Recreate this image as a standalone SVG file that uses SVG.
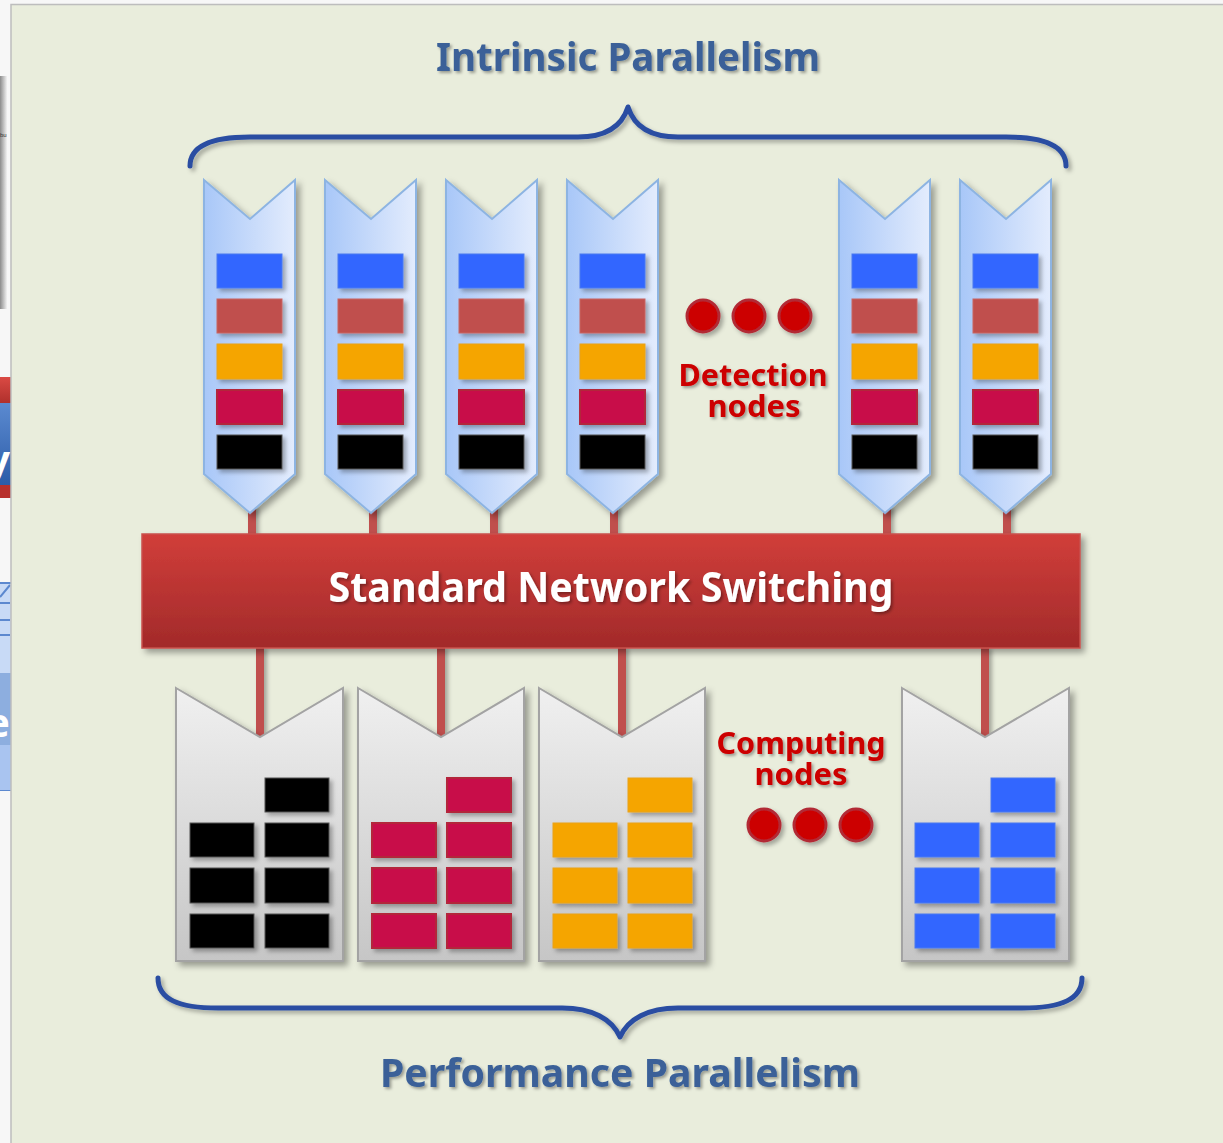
<svg xmlns="http://www.w3.org/2000/svg" width="1223" height="1143" viewBox="0 0 1223 1143">
  <style>
    .title { font-family: "Noto Sans", "Open Sans", "Liberation Sans", sans-serif; font-weight: bold; font-size: 40px; fill: #3A6198; text-anchor: middle; }
    .label { font-family: "Noto Sans", "Open Sans", "Liberation Sans", sans-serif; font-weight: bold; font-size: 31px; fill: #CC0000; text-anchor: middle; }
    .bar-text { font-family: "Noto Sans", "Open Sans", "Liberation Sans", sans-serif; font-weight: bold; font-size: 41px; fill: #FFFFFF; text-anchor: middle; }
    .det { fill: url(#detFill); stroke: #8DB4E2; stroke-width: 2; }
    .cmp { fill: url(#cmpFill); stroke: #A3A3A3; stroke-width: 2; }
    .blue { fill: #3366FF; stroke: #4A78F0; stroke-width: 1; }
    .rose { fill: #C0504D; stroke: #C86562; stroke-width: 1; }
    .amber { fill: #F5A503; stroke: #E9A21A; stroke-width: 1; }
    .crimson { fill: #C8084A; stroke: #B3283A; stroke-width: 2; }
    .ink { fill: #050505; stroke: #555555; stroke-width: 1; }
    .dot { fill: #CC0000; stroke: #B22A35; stroke-width: 3; }
    .brace { fill: none; stroke: #2A4DA2; stroke-width: 5; stroke-linecap: round; stroke-linejoin: round; }
    .link { stroke: #C0504D; stroke-width: 8; }
  </style>
  <defs>
    <linearGradient id="detFill" x1="0" y1="0" x2="1" y2="0">
      <stop offset="0" stop-color="#A8C7F8"/>
      <stop offset="1" stop-color="#E3ECFD"/>
    </linearGradient>
    <linearGradient id="cmpFill" x1="0" y1="0" x2="0" y2="1">
      <stop offset="0" stop-color="#F0F0F0"/>
      <stop offset="1" stop-color="#C6C6C6"/>
    </linearGradient>
    <linearGradient id="barFill" x1="0" y1="0" x2="0" y2="1">
      <stop offset="0" stop-color="#D13E3A"/>
      <stop offset="1" stop-color="#A22A2A"/>
    </linearGradient>
    <linearGradient id="sideRed" x1="0" y1="0" x2="0" y2="1">
      <stop offset="0" stop-color="#DA4A44"/>
      <stop offset="1" stop-color="#B0302C"/>
    </linearGradient>
    <linearGradient id="sideBlue" x1="0" y1="0" x2="0" y2="1">
      <stop offset="0" stop-color="#5B8AD0"/>
      <stop offset="1" stop-color="#2C5CA8"/>
    </linearGradient>
    <linearGradient id="sideGrey" x1="0" y1="0" x2="1" y2="0">
      <stop offset="0" stop-color="#8C8C8C"/>
      <stop offset="1" stop-color="#F2F2F2"/>
    </linearGradient>
    <filter id="shadow" x="-20%" y="-20%" width="150%" height="150%">
      <feDropShadow dx="4" dy="4" stdDeviation="3" flood-color="#000" flood-opacity="0.35"/>
    </filter>
    <filter id="smallShadow" x="-20%" y="-20%" width="150%" height="160%">
      <feDropShadow dx="3" dy="3" stdDeviation="2" flood-color="#000" flood-opacity="0.3"/>
    </filter>
    <filter id="textShadow" x="-10%" y="-30%" width="120%" height="170%">
      <feDropShadow dx="2" dy="2" stdDeviation="1.5" flood-color="#000" flood-opacity="0.35"/>
    </filter>
    <clipPath id="sideClip">
      <rect x="0" y="0" width="11" height="1143"/>
    </clipPath>
  </defs>

  <!-- page and neighbouring slide edges -->
  <rect x="0" y="0" width="1223" height="1143" fill="#F7F7F7"/>
  <g clip-path="url(#sideClip)">
    <rect x="0" y="76" width="7" height="233" fill="url(#sideGrey)"/>
    <text x="0" y="137" font-family="Liberation Sans, sans-serif" font-size="6" fill="#333">bu</text>
    <rect x="-10" y="377" width="30" height="26" fill="url(#sideRed)"/>
    <rect x="-10" y="403" width="30" height="82" fill="url(#sideBlue)"/>
    <rect x="-10" y="485" width="30" height="13" fill="#B8302C"/>
    <text x="10" y="474" font-family="Noto Sans, sans-serif" font-weight="bold" font-size="40" fill="#FFFFFF" text-anchor="end">y</text>
    <rect x="-10" y="583" width="30" height="207" fill="#C8DAF6" stroke="#5C88CF" stroke-width="2"/>
    <path d="M0,597 L10,585 M0,603 H10 M0,620 H10 M0,635 H10" stroke="#5C88CF" stroke-width="2" fill="none"/>
    <rect x="-10" y="673" width="30" height="72" fill="#8DAEDF"/>
    <rect x="-10" y="745" width="30" height="45" fill="#A9C4F0"/>
    <text x="10" y="737" font-family="Noto Sans, sans-serif" font-weight="bold" font-size="40" fill="#FFFFFF" text-anchor="end">e</text>
  </g>
  <rect x="11" y="4.5" width="1220" height="1145" fill="#E9EDDC" stroke="#BDBDBD" stroke-width="1.5"/>

  <!-- titles -->
  <text class="title" x="628" y="71" textLength="384" lengthAdjust="spacingAndGlyphs" filter="url(#textShadow)">Intrinsic Parallelism</text>
  <text class="title" x="620" y="1087" textLength="480" lengthAdjust="spacingAndGlyphs" filter="url(#textShadow)">Performance Parallelism</text>

  <!-- braces -->
  <g id="braces" filter="url(#smallShadow)">
    <path class="brace" d="M190,166 C190,146 210,137 250,137 L578,137 C606,137 622,126 628,107 C634,126 650,137 678,137 L1006,137 C1046,137 1066,146 1066,166"/>
    <path class="brace" d="M158,978 C158,999 178,1008 218,1008 L562,1008 C592,1008 612,1019 620,1037 C628,1019 648,1008 678,1008 L1022,1008 C1062,1008 1082,999 1082,978"/>
  </g>

  <!-- connectors between nodes and the switch -->
  <g id="connectors" filter="url(#smallShadow)">
    <line class="link" x1="252" y1="505" x2="252" y2="536"/>
    <line class="link" x1="373" y1="505" x2="373" y2="536"/>
    <line class="link" x1="494" y1="505" x2="494" y2="536"/>
    <line class="link" x1="614" y1="505" x2="614" y2="536"/>
    <line class="link" x1="887" y1="505" x2="887" y2="536"/>
    <line class="link" x1="1007" y1="505" x2="1007" y2="536"/>
    <line class="link" x1="260" y1="646" x2="260" y2="738"/>
    <line class="link" x1="441" y1="646" x2="441" y2="738"/>
    <line class="link" x1="622" y1="646" x2="622" y2="738"/>
    <line class="link" x1="985" y1="646" x2="985" y2="738"/>
  </g>

  <!-- detection nodes -->
  <g id="detection-1" transform="translate(204,0)">
    <path class="det" filter="url(#shadow)" d="M0,180 L46,219 L91,180 L91,474 L46,513 L0,474 Z"/>
    <g filter="url(#smallShadow)">
      <rect class="blue" x="13" y="254" width="65" height="34"/>
      <rect class="rose" x="13" y="299" width="65" height="34"/>
      <rect class="amber" x="13" y="344" width="65" height="35"/>
      <rect class="crimson" x="13" y="390" width="65" height="34"/>
      <rect class="ink" x="13" y="435" width="65" height="34"/>
    </g>
  </g>
  <g id="detection-2" transform="translate(325,0)">
    <path class="det" filter="url(#shadow)" d="M0,180 L46,219 L91,180 L91,474 L46,513 L0,474 Z"/>
    <g filter="url(#smallShadow)">
      <rect class="blue" x="13" y="254" width="65" height="34"/>
      <rect class="rose" x="13" y="299" width="65" height="34"/>
      <rect class="amber" x="13" y="344" width="65" height="35"/>
      <rect class="crimson" x="13" y="390" width="65" height="34"/>
      <rect class="ink" x="13" y="435" width="65" height="34"/>
    </g>
  </g>
  <g id="detection-3" transform="translate(446,0)">
    <path class="det" filter="url(#shadow)" d="M0,180 L46,219 L91,180 L91,474 L46,513 L0,474 Z"/>
    <g filter="url(#smallShadow)">
      <rect class="blue" x="13" y="254" width="65" height="34"/>
      <rect class="rose" x="13" y="299" width="65" height="34"/>
      <rect class="amber" x="13" y="344" width="65" height="35"/>
      <rect class="crimson" x="13" y="390" width="65" height="34"/>
      <rect class="ink" x="13" y="435" width="65" height="34"/>
    </g>
  </g>
  <g id="detection-4" transform="translate(567,0)">
    <path class="det" filter="url(#shadow)" d="M0,180 L46,219 L91,180 L91,474 L46,513 L0,474 Z"/>
    <g filter="url(#smallShadow)">
      <rect class="blue" x="13" y="254" width="65" height="34"/>
      <rect class="rose" x="13" y="299" width="65" height="34"/>
      <rect class="amber" x="13" y="344" width="65" height="35"/>
      <rect class="crimson" x="13" y="390" width="65" height="34"/>
      <rect class="ink" x="13" y="435" width="65" height="34"/>
    </g>
  </g>
  <g id="detection-5" transform="translate(839,0)">
    <path class="det" filter="url(#shadow)" d="M0,180 L46,219 L91,180 L91,474 L46,513 L0,474 Z"/>
    <g filter="url(#smallShadow)">
      <rect class="blue" x="13" y="254" width="65" height="34"/>
      <rect class="rose" x="13" y="299" width="65" height="34"/>
      <rect class="amber" x="13" y="344" width="65" height="35"/>
      <rect class="crimson" x="13" y="390" width="65" height="34"/>
      <rect class="ink" x="13" y="435" width="65" height="34"/>
    </g>
  </g>
  <g id="detection-6" transform="translate(960,0)">
    <path class="det" filter="url(#shadow)" d="M0,180 L46,219 L91,180 L91,474 L46,513 L0,474 Z"/>
    <g filter="url(#smallShadow)">
      <rect class="blue" x="13" y="254" width="65" height="34"/>
      <rect class="rose" x="13" y="299" width="65" height="34"/>
      <rect class="amber" x="13" y="344" width="65" height="35"/>
      <rect class="crimson" x="13" y="390" width="65" height="34"/>
      <rect class="ink" x="13" y="435" width="65" height="34"/>
    </g>
  </g>

  <!-- ellipsis and label for detection nodes -->
  <g id="detection-more" filter="url(#smallShadow)">
    <circle class="dot" cx="703" cy="316" r="16"/>
    <circle class="dot" cx="749" cy="316" r="16"/>
    <circle class="dot" cx="795" cy="316" r="16"/>
  </g>
  <g id="detection-label" filter="url(#textShadow)">
    <text class="label" x="753" y="386" textLength="149" lengthAdjust="spacingAndGlyphs">Detection</text>
    <text class="label" x="754" y="417" textLength="93" lengthAdjust="spacingAndGlyphs">nodes</text>
  </g>

  <!-- switch -->
  <g id="switch">
    <rect x="142" y="534" width="938" height="114" fill="url(#barFill)" stroke="#C9504C" stroke-width="1.5" filter="url(#shadow)"/>
    <text class="bar-text" x="611" y="602" textLength="565" lengthAdjust="spacingAndGlyphs" filter="url(#textShadow)">Standard Network Switching</text>
  </g>

  <!-- computing nodes -->
  <g id="computing-1" transform="translate(176,0)">
    <path class="cmp" filter="url(#shadow)" d="M0,688 L84,737 L167,688 L167,961 L0,961 Z"/>
    <g filter="url(#smallShadow)">
      <rect class="ink" x="89" y="778" width="64" height="34"/>
      <rect class="ink" x="14" y="823" width="64" height="34"/>
      <rect class="ink" x="89" y="823" width="64" height="34"/>
      <rect class="ink" x="14" y="868" width="64" height="35"/>
      <rect class="ink" x="89" y="868" width="64" height="35"/>
      <rect class="ink" x="14" y="914" width="64" height="34"/>
      <rect class="ink" x="89" y="914" width="64" height="34"/>
    </g>
  </g>
  <g id="computing-2" transform="translate(358,0)">
    <path class="cmp" filter="url(#shadow)" d="M0,688 L83,737 L166,688 L166,961 L0,961 Z"/>
    <g filter="url(#smallShadow)">
      <rect class="crimson" x="89" y="778" width="64" height="34"/>
      <rect class="crimson" x="14" y="823" width="64" height="34"/>
      <rect class="crimson" x="89" y="823" width="64" height="34"/>
      <rect class="crimson" x="14" y="868" width="64" height="35"/>
      <rect class="crimson" x="89" y="868" width="64" height="35"/>
      <rect class="crimson" x="14" y="914" width="64" height="34"/>
      <rect class="crimson" x="89" y="914" width="64" height="34"/>
    </g>
  </g>
  <g id="computing-3" transform="translate(539,0)">
    <path class="cmp" filter="url(#shadow)" d="M0,688 L83,737 L166,688 L166,961 L0,961 Z"/>
    <g filter="url(#smallShadow)">
      <rect class="amber" x="89" y="778" width="64" height="34"/>
      <rect class="amber" x="14" y="823" width="64" height="34"/>
      <rect class="amber" x="89" y="823" width="64" height="34"/>
      <rect class="amber" x="14" y="868" width="64" height="35"/>
      <rect class="amber" x="89" y="868" width="64" height="35"/>
      <rect class="amber" x="14" y="914" width="64" height="34"/>
      <rect class="amber" x="89" y="914" width="64" height="34"/>
    </g>
  </g>
  <g id="computing-4" transform="translate(902,0)">
    <path class="cmp" filter="url(#shadow)" d="M0,688 L83,737 L167,688 L167,961 L0,961 Z"/>
    <g filter="url(#smallShadow)">
      <rect class="blue" x="89" y="778" width="64" height="34"/>
      <rect class="blue" x="13" y="823" width="64" height="34"/>
      <rect class="blue" x="89" y="823" width="64" height="34"/>
      <rect class="blue" x="13" y="868" width="64" height="35"/>
      <rect class="blue" x="89" y="868" width="64" height="35"/>
      <rect class="blue" x="13" y="914" width="64" height="34"/>
      <rect class="blue" x="89" y="914" width="64" height="34"/>
    </g>
  </g>

  <!-- ellipsis and label for computing nodes -->
  <g id="computing-label" filter="url(#textShadow)">
    <text class="label" x="801" y="754" textLength="169" lengthAdjust="spacingAndGlyphs">Computing</text>
    <text class="label" x="801" y="785" textLength="93" lengthAdjust="spacingAndGlyphs">nodes</text>
  </g>
  <g id="computing-more" filter="url(#smallShadow)">
    <circle class="dot" cx="764" cy="825" r="16"/>
    <circle class="dot" cx="810" cy="825" r="16"/>
    <circle class="dot" cx="856" cy="825" r="16"/>
  </g>
</svg>
